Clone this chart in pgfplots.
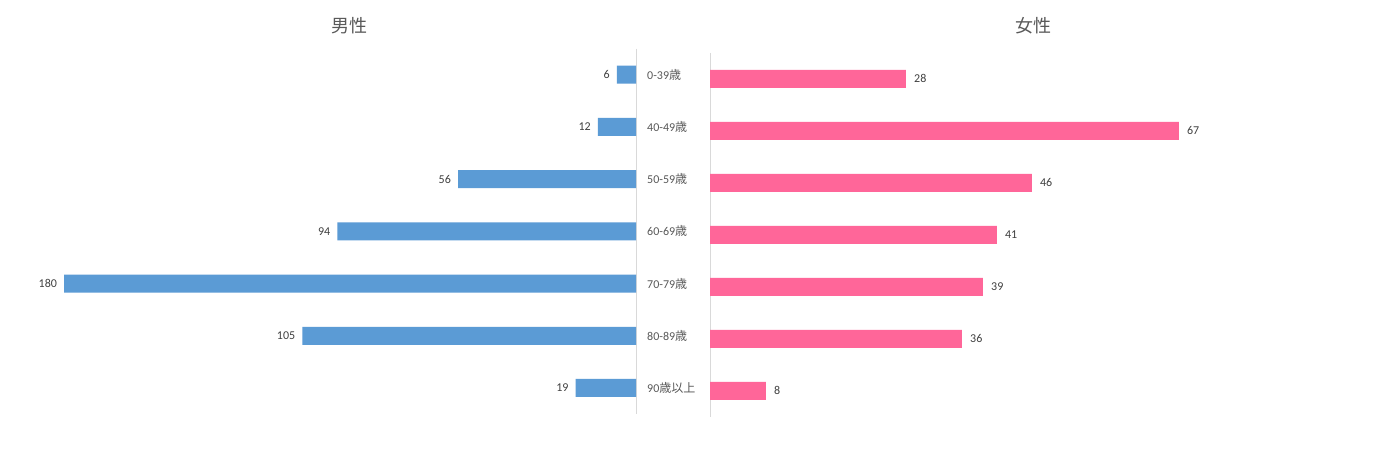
\documentclass[border=0pt]{standalone}
\usepackage{fontspec}
\setmainfont{Carlito}
\newfontfamily\jp{Noto Sans CJK JP}
\usepackage{pgfplots}
\pgfplotsset{compat=1.18}
\definecolor{mblue}{HTML}{5B9BD5}
\definecolor{fpink}{HTML}{FF6699}
\definecolor{axgray}{HTML}{D9D9D9}
\definecolor{txt}{HTML}{595959}
\definecolor{lbl}{HTML}{404040}
\begin{document}
\begin{tikzpicture}
\path[use as bounding box, fill=white] (0pt,0pt) rectangle (1374pt,455pt);
% Male (left)
\begin{axis}[
  at={(636pt,406.4pt)}, anchor=north east,
  scale only axis, width=575pt, height=365.5pt,
  xmin=-181, xmax=0, ymin=-0.5, ymax=6.5, y dir=reverse,
  xbar, bar width=18pt,
  axis x line=none, axis y line=right,
  axis line style={draw=axgray, -, line width=0.8pt},
  ytick={0,1,2,3,4,5,6},
  yticklabels={0-39{\jp 歳},40-49{\jp 歳},50-59{\jp 歳},60-69{\jp 歳},70-79{\jp 歳},80-89{\jp 歳},90{\jp 歳以上}},
  major tick length=0pt,
  yticklabel style={anchor=west, inner sep=0pt, xshift=11pt, font=\fontsize{12}{14}\selectfont, text=txt},
  nodes near coords,
  point meta=explicit symbolic,
  nodes near coords style={anchor=east, inner sep=0pt, xshift=-7pt, font=\fontsize{12}{14}\selectfont, text=lbl},
  clip=false,
]
\addplot[fill=mblue, draw=none] coordinates {
  (-6,0) [6]
  (-12,1) [12]
  (-56,2) [56]
  (-94,3) [94]
  (-180,4) [180]
  (-105,5) [105]
  (-19,6) [19]
};
\end{axis}
% Female (right)
\begin{axis}[
  at={(710pt,402.2pt)}, anchor=north west,
  scale only axis, width=646pt, height=364pt,
  xmin=0, xmax=92.3, ymin=-0.5, ymax=6.5, y dir=reverse,
  xbar, bar width=18pt,
  axis x line=none, axis y line=left,
  axis line style={draw=axgray, -, line width=0.8pt},
  ytick=\empty,
  nodes near coords,
  point meta=explicit symbolic,
  nodes near coords style={anchor=west, inner sep=0pt, xshift=8pt, font=\fontsize{12}{14}\selectfont, text=lbl},
  clip=false,
]
\addplot[fill=fpink, draw=none] coordinates {
  (28,0) [28]
  (67,1) [67]
  (46,2) [46]
  (41,3) [41]
  (39,4) [39]
  (36,5) [36]
  (8,6) [8]
};
\end{axis}
\node[text=txt, font=\jp\fontsize{18}{20}\selectfont] at (349pt,429pt) {男性};
\node[text=txt, font=\jp\fontsize{18}{20}\selectfont] at (1033pt,429.5pt) {女性};
\end{tikzpicture}
\end{document}
